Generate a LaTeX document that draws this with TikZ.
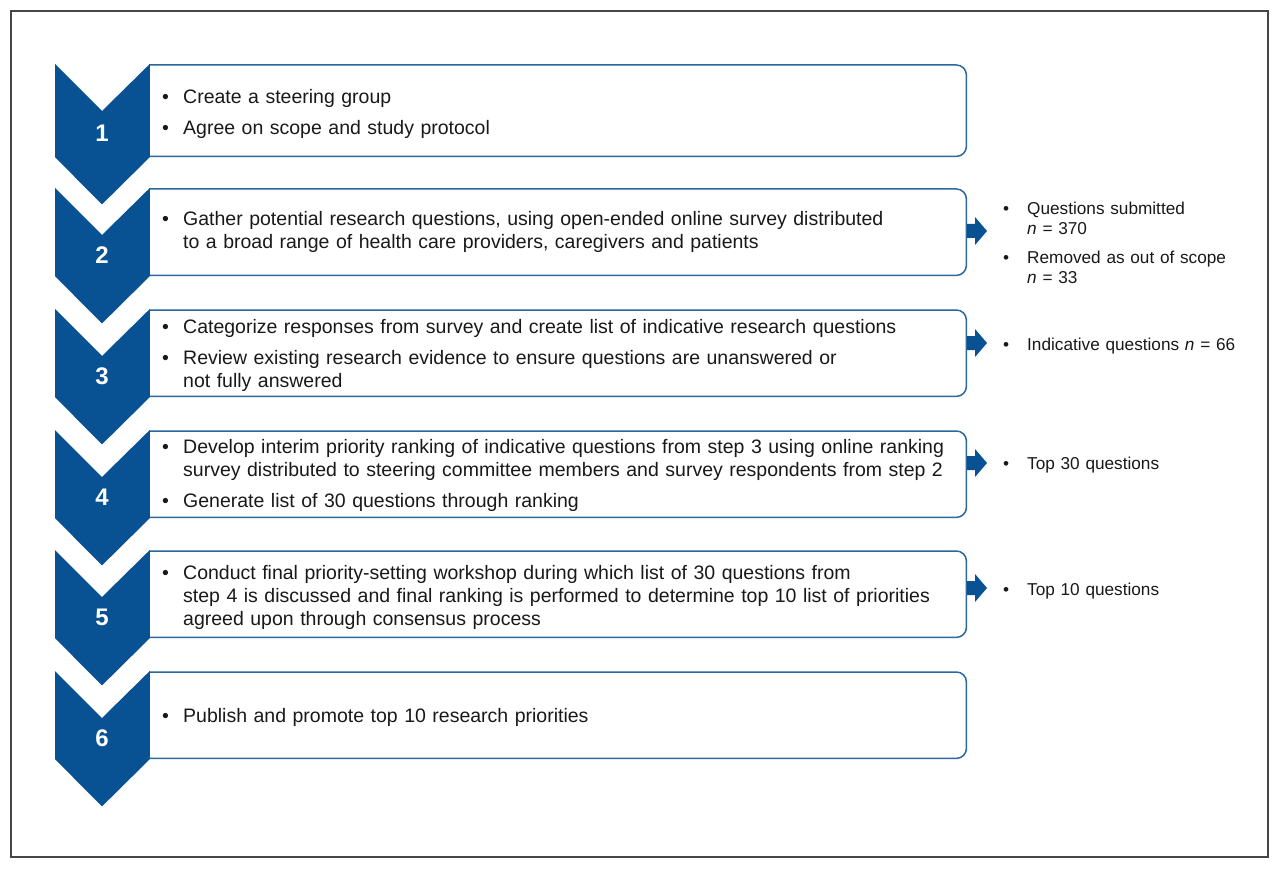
\documentclass[tikz,border=0pt]{standalone}
\usepackage{fontspec}
\setmainfont{Liberation Sans}
\usetikzlibrary{calc}
\definecolor{chev}{RGB}{8,82,148}
\definecolor{boxline}{RGB}{44,104,158}
\definecolor{frame}{RGB}{70,70,70}
\definecolor{txt}{RGB}{25,25,25}
\newcommand\nl{\hfil\break}
\newcommand\firstbul{\noindent\hangindent=21pt\hangafter=1\makebox[21pt][l]{\textbullet}\ignorespaces}
\newcommand\bul{\par\vspace{8pt}\firstbul}
\newcommand\rfirstbul{\noindent\hangindent=24pt\hangafter=1\makebox[24pt][l]{\textbullet}\ignorespaces}
\newcommand\rbul{\par\vspace{9pt}\rfirstbul}
\tikzset{
  stepframe/.style={draw=none,minimum width=817pt,inner sep=0pt,anchor=north west},
  boxborder/.style={draw=boxline,line width=1.5pt,rounded corners=10pt},
  chevfill/.style={fill=chev},
  stepnum/.style={text=white,font=\fontsize{24}{24}\selectfont\bfseries},
  steptext/.style={anchor=west,inner sep=0pt,text width=795pt,align=left,text=txt,font=\fontsize{19.5}{23}\selectfont},
  sidetext/.style={anchor=west,inner sep=0pt,text width=260pt,align=left,text=txt,font=\fontsize{17.2}{20}\selectfont},
}
\newcommand\stepbox[6]{% #1 name, #2 top, #3 bottom, #4 number, #5 text shift, #6 text
  \pgfmathsetmacro\hh{#3-#2}
  \node[stepframe,minimum height=\hh pt] (#1) at (149,#2) {};
  \draw[boxborder] (#1.north west) -- (#1.north east) -- (#1.south east) -- (#1.south west);
  \fill[chevfill] ($(#1.north west)+(-94,-1)$) -- ($(#1.north west)+(-47,46)$) -- ($(#1.north west)+(0.8,-1)$) -- ($(#1.south west)+(0.8,0.75)$) -- ($(#1.south west)+(-47,48)$) -- ($(#1.south west)+(-94,0.75)$) -- cycle;
  \node[stepnum] (#1n) at ($(#1.south west)!0.5!(#1.north west)+(-47,23)$) {#4};
  \node[steptext] (#1t) at ($(#1.west)+(13,#5)$) {#6\par};
}
\newcommand\sidearrow[2]{% #1 box, #2 y
  \fill[chev] (967,#2-7) -- (975,#2-7) -- (975,#2-14) -- (987,#2) -- (975,#2+14) -- (975,#2+7) -- (967,#2+7) -- cycle;
}
\begin{document}
\begin{tikzpicture}[x=1pt,y=-1pt]
\useasboundingbox (0,0) rectangle (1280,869);
\fill[white] (0,0) rectangle (1280,869);
\draw[frame,line width=1.4pt] (11,11) rectangle (1268,857);

\stepbox{b1}{65}{156}{1}{3}{\firstbul Create a steering group\bul Agree on scope and study protocol}
\stepbox{b2}{189}{275}{2}{-0.5}{\firstbul Gather potential research questions, using open-ended online survey distributed\nl to a broad range of health care providers, caregivers and patients}
\stepbox{b3}{310}{396}{3}{2.5}{\firstbul Categorize responses from survey and create list of indicative research questions\bul Review existing research evidence to ensure questions are unanswered or\nl not fully answered}
\stepbox{b4}{431}{517}{4}{1.5}{\firstbul Develop interim priority ranking of indicative questions from step 3 using online ranking\nl survey distributed to steering committee members and survey respondents from step 2\bul Generate list of 30 questions through ranking}
\stepbox{b5}{551}{637}{5}{3}{\firstbul Conduct final priority-setting workshop during which list of 30 questions from\nl step 4 is discussed and final ranking is performed to determine top 10 list of priorities\nl agreed upon through consensus process}
\stepbox{b6}{672}{758}{6}{2.5}{\firstbul Publish and promote top 10 research priorities}

\sidearrow{b2}{231}
\sidearrow{b3}{343}
\sidearrow{b4}{463}
\sidearrow{b5}{588}

\node[sidetext] (r2) at (1003,243) {\rfirstbul Questions submitted\nl \textit{n} = 370\rbul Removed as out of scope\nl \textit{n} = 33\par};
\node[sidetext] (r3) at (1003,346) {\rfirstbul Indicative questions \textit{n} = 66\par};
\node[sidetext] (r4) at (1003,465) {\rfirstbul Top 30 questions\par};
\node[sidetext] (r5) at (1003,591) {\rfirstbul Top 10 questions\par};
\end{tikzpicture}
\end{document}
